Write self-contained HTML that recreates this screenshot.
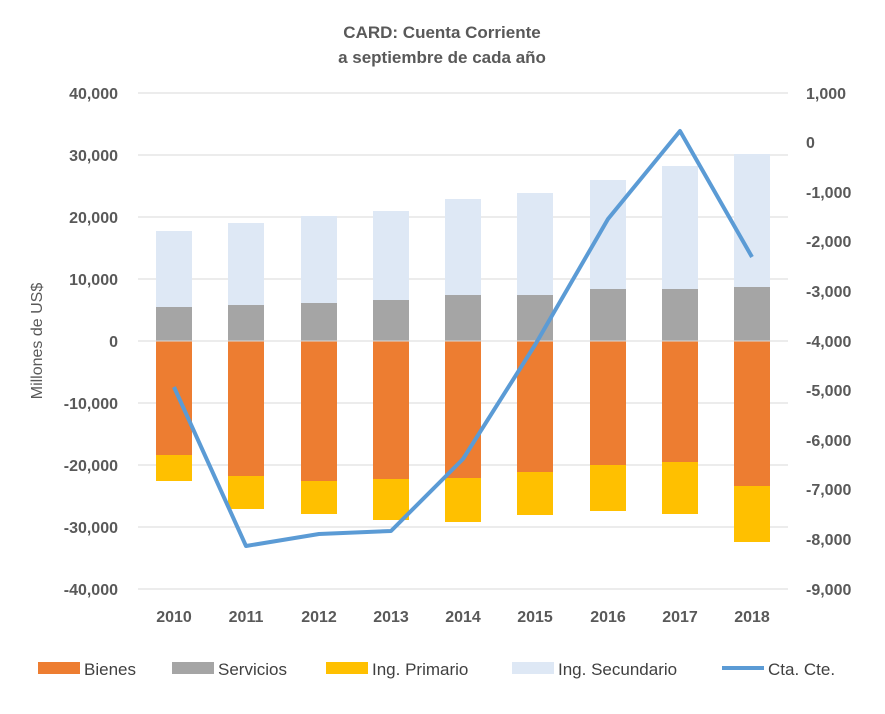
<!DOCTYPE html>
<html><head><meta charset="utf-8"><style>
body{margin:0;background:#fff;}
text{font-family:"Liberation Sans",sans-serif;}
</style></head><body>
<svg width="885" height="709" xmlns="http://www.w3.org/2000/svg">
<rect width="885" height="709" fill="#fff"/>
<text x="442" y="38" text-anchor="middle" font-size="17" font-weight="bold" fill="#595959">CARD: Cuenta Corriente</text>
<text x="442" y="63" text-anchor="middle" font-size="17" font-weight="bold" fill="#595959">a septiembre de cada año</text>
<g stroke="#d9d9d9" stroke-width="1">
<line x1="138" x2="788" y1="93" y2="93"/><line x1="138" x2="788" y1="155" y2="155"/>
<line x1="138" x2="788" y1="217" y2="217"/><line x1="138" x2="788" y1="279" y2="279"/>
<line x1="138" x2="788" y1="403" y2="403"/><line x1="138" x2="788" y1="465" y2="465"/>
<line x1="138" x2="788" y1="527" y2="527"/><line x1="138" x2="788" y1="589" y2="589"/>
</g>
<g font-size="16" font-weight="bold" fill="#595959" text-anchor="end">
<text x="118" y="99">40,000</text><text x="118" y="161">30,000</text><text x="118" y="223">20,000</text>
<text x="118" y="285">10,000</text><text x="118" y="347">0</text><text x="118" y="409">-10,000</text>
<text x="118" y="471">-20,000</text><text x="118" y="533">-30,000</text><text x="118" y="595">-40,000</text>
</g>
<g font-size="16" font-weight="bold" fill="#595959">
<text x="806" y="99">1,000</text><text x="806" y="148">0</text><text x="806" y="198">-1,000</text>
<text x="806" y="247">-2,000</text><text x="806" y="297">-3,000</text><text x="806" y="347">-4,000</text>
<text x="806" y="396">-5,000</text><text x="806" y="446">-6,000</text><text x="806" y="495">-7,000</text>
<text x="806" y="545">-8,000</text><text x="806" y="595">-9,000</text>
</g>
<text transform="translate(42,341) rotate(-90)" text-anchor="middle" font-size="16" fill="#595959">Millones de US$</text>
<g fill="#dee8f5">
<rect x="156" y="231" width="36" height="76"/><rect x="228" y="223" width="36" height="82"/>
<rect x="301" y="216" width="36" height="87"/><rect x="373" y="211" width="36" height="89"/>
<rect x="445" y="199" width="36" height="96"/><rect x="517" y="193" width="36" height="102"/>
<rect x="590" y="180" width="36" height="109"/><rect x="662" y="166" width="36" height="123"/>
<rect x="734" y="154" width="36" height="133"/>
</g>
<g fill="#a5a5a5">
<rect x="156" y="307" width="36" height="34"/><rect x="228" y="305" width="36" height="36"/>
<rect x="301" y="303" width="36" height="38"/><rect x="373" y="300" width="36" height="41"/>
<rect x="445" y="295" width="36" height="46"/><rect x="517" y="295" width="36" height="46"/>
<rect x="590" y="289" width="36" height="52"/><rect x="662" y="289" width="36" height="52"/>
<rect x="734" y="287" width="36" height="54"/>
</g>
<g fill="#ed7d31">
<rect x="156" y="341" width="36" height="114"/><rect x="228" y="341" width="36" height="135"/>
<rect x="301" y="341" width="36" height="140"/><rect x="373" y="341" width="36" height="138"/>
<rect x="445" y="341" width="36" height="137"/><rect x="517" y="341" width="36" height="131"/>
<rect x="590" y="341" width="36" height="124"/><rect x="662" y="341" width="36" height="121"/>
<rect x="734" y="341" width="36" height="145"/>
</g>
<g fill="#ffc000">
<rect x="156" y="455" width="36" height="26"/><rect x="228" y="476" width="36" height="33"/>
<rect x="301" y="481" width="36" height="33"/><rect x="373" y="479" width="36" height="41"/>
<rect x="445" y="478" width="36" height="44"/><rect x="517" y="472" width="36" height="43"/>
<rect x="590" y="465" width="36" height="46"/><rect x="662" y="462" width="36" height="52"/>
<rect x="734" y="486" width="36" height="56"/>
</g>
<g font-size="16" font-weight="bold" fill="#595959" text-anchor="middle">
<text x="174" y="622">2010</text><text x="246" y="622">2011</text><text x="319" y="622">2012</text>
<text x="391" y="622">2013</text><text x="463" y="622">2014</text><text x="535" y="622">2015</text>
<text x="608" y="622">2016</text><text x="680" y="622">2017</text><text x="752" y="622">2018</text>
</g>
<line x1="138" x2="788" y1="341" y2="341" stroke="#d9d9d9"/>
<polyline fill="none" stroke="#5b9bd5" stroke-width="4" stroke-linejoin="round" points="174,387 246,546 319,534 391,531 463,459 535,345 608,219 680,131 752,257"/>
<g font-size="17" fill="#404040">
<rect x="38" y="662" width="42" height="12" fill="#ed7d31"/><text x="84" y="675">Bienes</text>
<rect x="172" y="662" width="42" height="12" fill="#a5a5a5"/><text x="218" y="675">Servicios</text>
<rect x="326" y="662" width="42" height="12" fill="#ffc000"/><text x="372" y="675">Ing. Primario</text>
<rect x="512" y="662" width="42" height="12" fill="#dee8f5"/><text x="558" y="675">Ing. Secundario</text>
<line x1="722" x2="764" y1="668" y2="668" stroke="#5b9bd5" stroke-width="4"/><text x="768" y="675">Cta. Cte.</text>
</g>
</svg>
</body></html>
